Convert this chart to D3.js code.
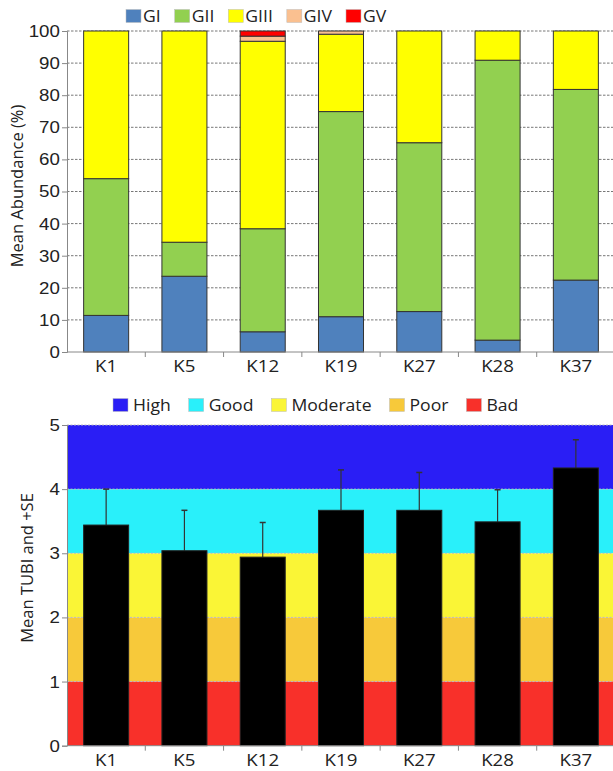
<!DOCTYPE html>
<html>

<head>
    <meta charset="utf-8">
    <style>
        body {
            margin: 0;
            background: white;
        }

        svg {
            font-family: 'Open Sans', 'Noto Sans', sans-serif;
        }

        .tick text {
            fill: #222;
        }
    </style>
</head>

<body>
    <svg width="613" height="771"></svg>
</body>

<script src="https://d3js.org/d3.v7.min.js"></script>

<script>

    // sites along the x axis
    let sites = ["K1", "K5", "K12", "K19", "K27", "K28", "K37"]

    // top chart: mean abundance (%) per group
    let groups = ["GI", "GII", "GIII", "GIV", "GV"]
    let groupColors = ["#4f81bd", "#92d050", "#ffff00", "#fac090", "#ff0000"]
    let gI = [11.4, 23.6, 6.3, 11.0, 12.6, 3.7, 22.4]
    let gII = [42.6, 10.6, 32.1, 63.9, 52.6, 87.2, 59.4]
    let gIII = [46.0, 65.8, 58.4, 24.1, 34.8, 9.1, 18.2]
    let gIV = [0, 0, 1.6, 1.0, 0, 0, 0]
    let gV = [0, 0, 1.6, 0, 0, 0, 0]
    let abundanceTicks = [0, 10, 20, 30, 40, 50, 60, 70, 80, 90, 100]

    // bottom chart: mean TUBI and standard error
    let tubiMean = [3.44, 3.04, 2.94, 3.67, 3.67, 3.49, 4.33]
    let tubiSE = [0.56, 0.63, 0.54, 0.63, 0.59, 0.50, 0.44]
    let classes = ["High", "Good", "Moderate", "Poor", "Bad"]
    let classColors = ["#2a1ef5", "#29f0fa", "#faf536", "#f7c93a", "#f8302a"]
    let classFrom = [4, 3, 2, 1, 0]
    let classTo = [5, 4, 3, 2, 1]
    let tubiTicks = [0, 1, 2, 3, 4, 5]

    // the original figure is a bit wider than tall, so text is stretched sideways
    let stretch = 1.1

    let svg = d3.select("svg")

    let x = d3.scaleBand()
        .domain(sites)
        .range([67, 615])
        .paddingInner(0.425)
        .paddingOuter(0.2125)

    // ---------- TOP CHART ----------
    let y1 = d3.scaleLinear().domain([0, 100]).range([352, 31])

    let topChart = svg.append("g")

    // dashed grid
    topChart.selectAll(".grid")
        .data(abundanceTicks.filter(d => d > 0))
        .join("line")
        .attr("x1", 67)
        .attr("x2", 613)
        .attr("y1", d => y1(d))
        .attr("y2", d => y1(d))
        .style("stroke", "#777")
        .style("stroke-width", 1)
        .style("stroke-dasharray", "2.5,1.5")

    let rows = [gI, gII, gIII, gIV, gV]

    // stack per site
    let stackData = sites.map((s, i) => {
        let o = { site: s }
        groups.forEach((g, gi) => { o[g] = rows[gi][i] })
        return o
    })
    let stacked = d3.stack().keys(groups)(stackData)

    topChart.selectAll(".layer")
        .data(stacked)
        .join("g")
        .style("fill", (d, i) => groupColors[i])
        .selectAll("rect")
        .data(d => d.filter(v => v[1] - v[0] > 0))
        .join("rect")
        .attr("x", d => x(d.data.site))
        .attr("width", x.bandwidth())
        .attr("y", d => y1(d[1]))
        .attr("height", d => y1(d[0]) - y1(d[1]))
        .style("stroke", "#333")
        .style("stroke-width", 1)

    // y axis
    let yAxis1 = topChart.append("g")
        .attr("transform", "translate(67,0)")
        .call(d3.axisLeft(y1).tickValues(abundanceTicks).tickSize(5).tickPadding(1.5))
    styleYAxis(yAxis1)

    // x axis
    drawXAxis(topChart, 352)

    topChart.append("text")
        .attr("transform", "translate(23,186) rotate(-90)")
        .attr("text-anchor", "middle")
        .style("font-size", "16.5px")
        .style("fill", "#222")
        .text("Mean Abundance (%)")

    drawLegend(topChart, groups, groupColors, 126, 16, 2, 14)

    // ---------- BOTTOM CHART ----------
    let y2 = d3.scaleLinear().domain([0, 5]).range([745.7, 425])

    let bottomChart = svg.append("g")

    bottomChart.selectAll(".band")
        .data(classes)
        .join("rect")
        .attr("x", 67)
        .attr("width", 613 - 67)
        .attr("y", (d, i) => y2(classTo[i]))
        .attr("height", (d, i) => y2(classFrom[i]) - y2(classTo[i]))
        .style("fill", (d, i) => classColors[i])

    bottomChart.selectAll(".grid")
        .data(tubiTicks.filter(d => d > 0))
        .join("line")
        .attr("x1", 67)
        .attr("x2", 613)
        .attr("y1", d => y2(d))
        .attr("y2", d => y2(d))
        .style("stroke", "#bbb")
        .style("stroke-width", 1)
        .style("stroke-dasharray", "2,1.5")

    // error bars
    let err = bottomChart.append("g")
    err.selectAll(".eline")
        .data(sites)
        .join("line")
        .attr("x1", d => x(d) + x.bandwidth() / 2)
        .attr("x2", d => x(d) + x.bandwidth() / 2)
        .attr("y1", (d, i) => y2(tubiMean[i]))
        .attr("y2", (d, i) => y2(tubiMean[i] + tubiSE[i]))
        .style("stroke", "#333")
        .style("stroke-width", 1.2)
    err.selectAll(".ecap")
        .data(sites)
        .join("line")
        .attr("x1", d => x(d) + x.bandwidth() / 2 - 3)
        .attr("x2", d => x(d) + x.bandwidth() / 2 + 3)
        .attr("y1", (d, i) => y2(tubiMean[i] + tubiSE[i]))
        .attr("y2", (d, i) => y2(tubiMean[i] + tubiSE[i]))
        .style("stroke", "#333")
        .style("stroke-width", 1.5)

    bottomChart.selectAll(".bar")
        .data(sites)
        .join("rect")
        .attr("x", d => x(d))
        .attr("width", x.bandwidth())
        .attr("y", (d, i) => y2(tubiMean[i]))
        .attr("height", (d, i) => y2(0) - y2(tubiMean[i]))
        .style("fill", "#000")
        .style("stroke", "#222")
        .style("stroke-width", 1)

    let yAxis2 = bottomChart.append("g")
        .attr("transform", "translate(67,0)")
        .call(d3.axisLeft(y2).tickValues(tubiTicks).tickFormat(d3.format("d")).tickSize(5).tickPadding(1.5))
    styleYAxis(yAxis2)

    drawXAxis(bottomChart, 745.7)

    bottomChart.append("text")
        .attr("transform", "translate(33,568) rotate(-90)")
        .attr("text-anchor", "middle")
        .style("font-size", "16.5px")
        .style("fill", "#222")
        .text("Mean TUBI and +SE")

    drawLegend(bottomChart, classes, classColors, 113, 405, 5, 18)

    function styleYAxis(ax) {
        ax.selectAll("line, path").style("stroke", "#888")
        ax.selectAll("text")
            .style("font-size", "17px")
            .attr("transform", "scale(" + stretch + ",1)")
    }

    function drawXAxis(g, y0) {
        g.append("line")
            .attr("x1", 67).attr("x2", 613)
            .attr("y1", y0).attr("y2", y0)
            .style("stroke", "#888")
        g.selectAll(".btick")
            .data(d3.range(1, sites.length + 1))
            .join("line")
            .attr("x1", i => x.range()[0] + i * x.step())
            .attr("x2", i => x.range()[0] + i * x.step())
            .attr("y1", y0)
            .attr("y2", y0 + 5)
            .style("stroke", "#888")
        g.selectAll(".xlab")
            .data(sites)
            .join("text")
            .attr("transform", d => "translate(" + (x(d) + x.bandwidth() / 2) + "," + (y0 + 20) + ") scale(" + stretch + ",1)")
            .attr("text-anchor", "middle")
            .style("font-size", "17px")
            .style("fill", "#222")
            .text(d => d)
    }

    function drawLegend(g, names, colors, x0, cy, textGap, itemGap) {
        let cx = x0
        names.forEach((n, i) => {
            g.append("rect")
                .attr("x", cx)
                .attr("y", cy - 6.5)
                .attr("width", 15)
                .attr("height", 13)
                .style("fill", colors[i])
                .style("stroke", "#bbb")
                .style("stroke-width", 0.5)
            let t = g.append("text")
                .attr("transform", "translate(" + (cx + 15 + textGap) + "," + (cy + 6) + ") scale(" + stretch + ",1)")
                .style("font-size", "16px")
                .style("fill", "#222")
                .text(n)
            cx += 15 + textGap + t.node().getComputedTextLength() * stretch + itemGap
        })
    }

</script>

</html>
